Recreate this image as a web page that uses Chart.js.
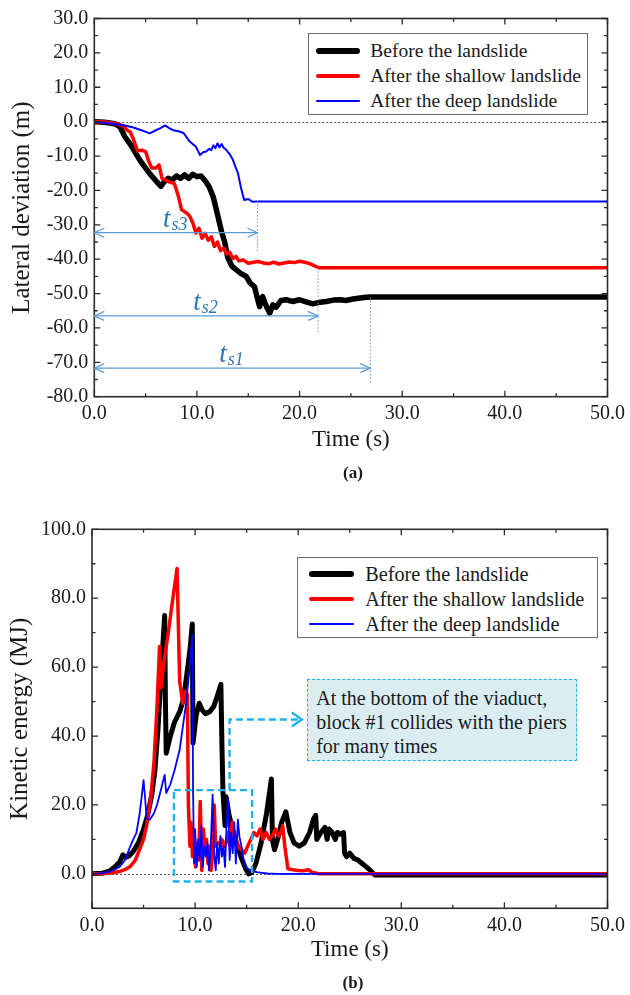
<!DOCTYPE html>
<html lang="en">
<head>
<meta charset="utf-8">
<title>Lateral deviation and kinetic energy</title>
<script src="https://cdn.jsdelivr.net/npm/chart.js@4.4.1/dist/chart.umd.min.js"></script>
<style>
    body { margin: 0; background: #fff; font-family: 'Liberation Serif', 'Times New Roman', serif; color: #1a1a1a; }
    #pagina { position: relative; width: 630px; height: 995px; overflow: hidden; }
    .painel { position: absolute; left: 0; width: 630px; }
    #painelA { top: 0; height: 490px; }
    #painelB { top: 490px; height: 505px; }
    .legenda { position: absolute; background: #fff; border: 1px solid #6b6b6b; box-sizing: border-box; }
    .legenda .amostra { position: absolute; border-radius: 3px; }
    .legenda .rotulo { position: absolute; white-space: nowrap; line-height: 24px; height: 24px; }
    .subtitulo { position: absolute; left: 333px; width: 40px; text-align: center; font-weight: bold; font-size: 17px; line-height: 20px; }
    #nota { position: absolute; left: 306.7px; top: 679.3px; width: 270px; height: 81.4px; box-sizing: border-box;
            background: #daedf3; border: 1.5px dashed #1fb2ec; padding: 5.5px 0 0 8.5px;
            font-size: 20px; line-height: 24px; white-space: nowrap; }
</style>
</head>
<body>
<div id="pagina">
    <div class="painel" id="painelA"><canvas id="chartDesvio"></canvas></div>
    <div class="painel" id="painelB"><canvas id="chartEnergia"></canvas></div>
    <div class="legenda" id="legendaA" style="left:307.7px; top:33.3px; width:280.6px; height:81.7px;"></div>
    <div class="legenda" id="legendaB" style="left:296.7px; top:557.3px; width:301.3px; height:80.4px;"></div>
    <div id="nota">At the bottom of the viaduct,<br>block #1 collides with the piers<br>for many times</div>
    <div class="subtitulo" style="top:463px;">(a)</div>
    <div class="subtitulo" style="top:973px;">(b)</div>
</div>
<script>
// Nomes das séries
const nomesSeries = ['Before the landslide', 'After the shallow landslide', 'After the deep landslide'];

// Marcas dos eixos
const ticksTempo = [0, 10, 20, 30, 40, 50];
const ticksDesvio = [-80, -70, -60, -50, -40, -30, -20, -10, 0, 10, 20, 30];
const ticksEnergia = [0, 20, 40, 60, 80, 100];

// Painel (a): desvio lateral (m)
const tempoDesvioAntes = [0,1,2,2.5,3.0,3.5,4.0,4.5,5.0,5.5,6.0,6.5,6.8,7.2,7.6,8.0,8.4,8.8,9.2,9.6,10.0,10.4,10.8,11.2,11.6,12.0,12.4,12.7,13.0,13.4,13.8,14.3,14.8,15.2,15.6,16.1,16.4,16.8,17.1,17.4,17.7,18.2,18.7,19.3,20.0,20.7,21.3,22.0,22.6,23.3,24.0,24.5,25.2,25.9,26.5,27.0,50];
const desvioAntes = [0,-0.2,-0.6,-1.5,-4.5,-6.5,-9,-11.5,-13.5,-15.5,-17.2,-18.8,-17.5,-16.5,-17,-15.8,-16.5,-15.5,-16.5,-15.3,-16,-15.8,-17.2,-19,-22,-27,-32,-35,-39.5,-42,-43,-44.2,-45,-47,-48,-53.8,-50.9,-54,-55.7,-53.3,-54,-52,-51.8,-52.3,-51.8,-52.5,-53,-52.5,-52.3,-51.9,-51.8,-52,-51.6,-51.3,-51.1,-51,-51];

const tempoDesvioRaso = [0,1,2,2.8,3.2,3.5,3.8,4.2,4.6,5.0,5.3,5.6,6.0,6.3,6.6,6.9,7.3,7.8,8.2,8.5,9.0,9.3,9.6,9.9,10.2,10.5,10.8,11.1,11.4,11.7,12.0,12.3,12.6,12.9,13.2,13.5,13.8,14.1,14.5,15.0,15.5,16.0,16.5,17.0,17.5,18.0,18.5,19.0,19.5,20.0,20.5,21.0,21.5,21.9,50];
const desvioRaso = [0,-0.1,-0.5,-1.2,-2.5,-3,-5,-8.5,-8.3,-8.7,-11.5,-13.5,-13.5,-12.6,-16.5,-16.9,-17.5,-18,-21.8,-25.6,-26.6,-27.5,-29.5,-32.4,-31,-33.9,-32.5,-34.5,-33.5,-36.3,-35,-37.5,-36.8,-38.5,-38,-39.8,-39.2,-40.5,-40.2,-41.2,-40.9,-40.7,-41.1,-41.3,-40.9,-41.4,-41.1,-40.8,-41,-40.6,-40.9,-41.3,-42,-42.5,-42.5];

const tempoDesvioProfundo = [0,1,2,3,3.8,4.6,5.4,6.0,6.5,6.9,7.3,7.7,8.2,8.7,9.3,9.9,10.3,10.6,10.9,11.2,11.4,11.6,11.8,12.0,12.2,12.4,12.6,12.85,13.2,13.5,13.8,14.0,14.3,14.6,15.0,15.4,15.9,50];
const desvioProfundo = [0,-0.3,-0.7,-1.1,-1.7,-2.5,-3.4,-2.5,-1.8,-1.1,-1.9,-2.5,-2.8,-3.3,-5.8,-7.3,-9.7,-8.9,-8.7,-7.9,-8.3,-6.9,-7.7,-6.3,-7.5,-6.5,-7.6,-8.2,-9.5,-11.1,-13.5,-15,-19.4,-22.8,-22.5,-23.3,-23.2,-23.2];

// Tempos de estabilização t_s (fim da seta, altura da seta, trecho pontilhado)
const marcasTs = [
    { indice: 's3', tempo: 15.9, nivel: -32.3, topo: -23, fundo: -38 },
    { indice: 's2', tempo: 21.8, nivel: -56.5, topo: -42.5, fundo: -61.5 },
    { indice: 's1', tempo: 26.9, nivel: -71.7, topo: -51, fundo: -76 }
];

// Painel (b): energia cinética (MJ)
const tempoEnergiaAntes = [0,1,1.7,2.2,2.7,3.0,3.3,3.6,4.0,4.5,5.0,5.4,5.8,6.1,6.4,6.7,7.05,7.12,7.2,7.6,8.0,8.5,8.9,9.2,9.5,9.73,9.8,10.1,10.4,10.7,11.0,11.4,11.8,12.2,12.5,12.6,12.7,12.9,13.0,13.3,13.7,14.1,14.5,14.9,15.2,15.5,15.9,16.4,16.9,17.4,17.5,17.7,18.0,18.4,18.8,19.2,19.6,20.1,20.6,21.1,21.5,21.7,21.8,22.2,22.6,22.8,23.0,23.3,23.6,23.8,24.1,24.4,24.5,24.7,25.0,25.4,25.8,26.2,26.6,27.0,27.4,50];
const energiaAntes = [0,0.2,0.8,2,3.5,5.5,4.8,5.2,6.5,9,13,17,23,30,42,58,75,50,35,40,44,47,51,58,65,72.5,38,46,49.5,47.5,46.5,47,48.5,52,55,38,24,14,22.4,17,12,8,4.5,1.5,0,0.4,3,9,17,27.5,10,7,10,15,18,12,9,8,9,12,16,17,10,12,13.5,10,13,12,10,12,11.5,12,6,5,6,4.5,4,3,2,1,-0.3,-0.3];

const tempoEnergiaRaso = [0,1,2,2.7,3.2,3.7,4.2,4.6,5.0,5.3,5.7,6.0,6.3,6.55,6.7,7.0,7.4,7.8,8.25,8.5,8.8,9.1,9.25,9.35,9.5,9.6,9.75,9.9,10.05,10.2,10.35,10.5,10.65,10.8,10.95,11.1,11.25,11.4,11.55,11.7,11.85,12.0,12.2,12.4,12.6,12.8,13.0,13.2,13.4,13.6,13.8,14.0,14.2,14.5,14.8,15.1,15.4,15.7,16.0,16.3,16.6,16.9,17.2,17.5,17.8,18.1,18.3,18.5,18.7,19.0,19.5,20.0,20.5,21.0,21.3,21.6,22.0,50];
const energiaRaso = [0,0,0.3,0.7,1.2,2.1,4,7,10,14,22,32,48,66,54,62,70,79,88.6,56,49.5,53,52,20,8,15,5,12,2,9,4,21,1,13,7,10,3,8,1,6,20,8,9,9,10,8,9,12,8,15,9,10,8,7,6,8,10,12,11,13,10,12,10,11,13,11,12,14,8,1.5,1.2,1,0.9,1.2,0.5,0.3,0,0];

const tempoEnergiaProfundo = [0,1,1.7,2.2,2.7,3.2,3.7,4.0,4.3,4.6,4.8,5.0,5.15,5.3,5.6,6.0,6.3,6.6,6.9,7.05,7.2,7.6,8.0,8.5,9.15,9.6,9.73,9.8,9.9,10.0,10.15,10.3,10.45,10.6,10.75,10.9,11.05,11.2,11.35,11.5,11.7,11.85,12.0,12.15,12.3,12.45,12.6,12.75,12.9,13.05,13.2,13.35,13.5,13.65,13.8,13.95,14.15,14.3,14.5,14.7,14.9,15.1,15.3,15.6,16.0,16.5,17,18,50];
const energiaProfundo = [0,0.2,0.6,1.2,2.1,4,7.9,10,11.8,17,22,27.2,22,16,15.7,17.5,20,23.4,27,28.7,23.4,26,30,36,50,64,69.3,25,3,13,2,10,4,14,2,8,5,9,1,7,23,6,1,9,3,11,5,8,2,14,22,4,12,6,15,3,15.7,10.8,8,4,2,1.5,1.2,0.8,0.5,0.3,0.1,0,0];

// Caixa tracejada das colisões e seta até a nota (coordenadas do gráfico b)
const caixaColisao = { t0: 7.95, t1: 15.53, e0: -2.2, e1: 24.3 };
const setaNota = { tempo: 13.34, nivel: 44.8, tempoFim: 20.35 };

const fonteSerif = "'Liberation Serif', 'Times New Roman', serif";
const coresSeries = ['#000000', '#ff0000', '#0000ff'];

function pontos(tempos, valores) {
    return tempos.map((t, i) => ({ x: t, y: valores[i] }));
}

function pontaSeta(ctx, x, y, direcao, comprimento, meiaAltura) {
    ctx.beginPath();
    ctx.moveTo(x - direcao * comprimento, y - meiaAltura);
    ctx.lineTo(x, y);
    ctx.lineTo(x - direcao * comprimento, y + meiaAltura);
    ctx.stroke();
}

// Moldura, linha do zero e marcas internas dos eixos
const molduraEixos = {
    id: 'molduraEixos',
    beforeDatasetsDraw(chart) {
        const { ctx, chartArea: a, scales: { y } } = chart;
        const y0 = Math.round(y.getPixelForValue(0)) + 0.5;
        ctx.save();
        ctx.strokeStyle = '#555';
        ctx.lineWidth = 1;
        ctx.setLineDash([2, 2]);
        ctx.beginPath();
        ctx.moveTo(a.left, y0);
        ctx.lineTo(a.right, y0);
        ctx.stroke();
        ctx.restore();
    },
    afterDatasetsDraw(chart, args, opts) {
        const { ctx, chartArea: a, scales: { x, y } } = chart;
        ctx.save();
        ctx.strokeStyle = '#2b2b2b';
        ctx.lineWidth = 1.6;
        ctx.strokeRect(a.left, a.top, a.right - a.left, a.bottom - a.top);
        ctx.lineWidth = 1.3;
        ctx.beginPath();
        for (let v = x.min; v <= x.max + 1e-6; v += opts.passoX) {
            const px = x.getPixelForValue(v);
            const tam = Math.abs(v % (opts.passoX * 2)) < 1e-6 ? 6 : 3.5;
            ctx.moveTo(px, a.bottom); ctx.lineTo(px, a.bottom - tam);
            ctx.moveTo(px, a.top); ctx.lineTo(px, a.top + tam);
        }
        for (let v = y.min; v <= y.max + 1e-6; v += opts.passoY) {
            const py = y.getPixelForValue(v);
            const tam = Math.abs(v % (opts.passoY * 2)) < 1e-6 ? 6 : 3.5;
            ctx.moveTo(a.left, py); ctx.lineTo(a.left + tam, py);
            ctx.moveTo(a.right, py); ctx.lineTo(a.right - tam, py);
        }
        ctx.stroke();
        ctx.restore();
    }
};

// Setas t_s do painel (a)
const setasTs = {
    id: 'setasTs',
    afterDatasetsDraw(chart) {
        const { ctx, scales: { x, y } } = chart;
        ctx.save();
        marcasTs.forEach(m => {
            const xi = x.getPixelForValue(0);
            const xf = x.getPixelForValue(m.tempo);
            const yl = y.getPixelForValue(m.nivel);
            ctx.strokeStyle = '#5b9bd5';
            ctx.lineWidth = 1.2;
            ctx.setLineDash([]);
            ctx.beginPath();
            ctx.moveTo(xi, yl);
            ctx.lineTo(xf, yl);
            ctx.stroke();
            pontaSeta(ctx, xi, yl, -1, 10, 4.5);
            pontaSeta(ctx, xf, yl, 1, 10, 4.5);
            ctx.setLineDash([1.5, 2]);
            ctx.lineWidth = 1;
            ctx.beginPath();
            ctx.moveTo(xf, y.getPixelForValue(m.topo));
            ctx.lineTo(xf, y.getPixelForValue(m.fundo));
            ctx.stroke();

            // rótulo t_s
            const meio = (xi + xf) / 2 - 13;
            ctx.fillStyle = '#2e75b6';
            ctx.textBaseline = 'alphabetic';
            ctx.textAlign = 'left';
            ctx.font = 'italic 27px ' + fonteSerif;
            ctx.fillText('t', meio, yl - 6);
            const largT = ctx.measureText('t').width;
            ctx.font = 'italic 18px ' + fonteSerif;
            ctx.fillText(m.indice, meio + largT + 1, yl - 3);
        });
        ctx.restore();
    }
};

// Caixa das colisões e seta do painel (b)
const destaqueColisoes = {
    id: 'destaqueColisoes',
    afterDatasetsDraw(chart) {
        const { ctx, scales: { x, y } } = chart;
        ctx.save();
        ctx.strokeStyle = '#1fb2ec';
        ctx.lineWidth = 2.4;
        ctx.setLineDash([7, 4]);
        const x0 = x.getPixelForValue(caixaColisao.t0), x1 = x.getPixelForValue(caixaColisao.t1);
        const y0 = y.getPixelForValue(caixaColisao.e1), y1 = y.getPixelForValue(caixaColisao.e0);
        ctx.strokeRect(x0, y0, x1 - x0, y1 - y0);
        const xs = x.getPixelForValue(setaNota.tempo);
        const ys = y.getPixelForValue(setaNota.nivel);
        const xe = x.getPixelForValue(setaNota.tempoFim);
        ctx.beginPath();
        ctx.moveTo(xs, y0);
        ctx.lineTo(xs, ys);
        ctx.lineTo(xe - 2, ys);
        ctx.stroke();
        ctx.setLineDash([]);
        pontaSeta(ctx, xe, ys, 1, 10, 7);
        ctx.restore();
    }
};

// Eixos comuns
function eixoX(altura, tituloPadding) {
    return {
        type: 'linear', min: 0, max: 50,
        afterBuildTicks: s => { s.ticks = ticksTempo.map(v => ({ value: v })); },
        afterFit: s => { s.height = altura; },
        ticks: { padding: 5, color: '#1a1a1a', font: { family: fonteSerif, size: 20 }, maxRotation: 0, autoSkip: false,
                 callback: v => v.toFixed(1) },
        grid: { display: false, drawTicks: false },
        border: { display: false },
        title: { display: true, text: 'Time (s)', color: '#1a1a1a', font: { family: fonteSerif, size: 23 },
                 padding: { top: 0, bottom: tituloPadding } }
    };
}

function eixoY(min, max, marcas, largura, titulo, tituloPadding) {
    return {
        type: 'linear', min: min, max: max,
        afterBuildTicks: s => { s.ticks = marcas.map(v => ({ value: v })); },
        afterFit: s => { s.width = largura; },
        ticks: { padding: 6, color: '#1a1a1a', font: { family: fonteSerif, size: 20 }, autoSkip: false,
                 callback: v => v.toFixed(1) },
        grid: { display: false, drawTicks: false },
        border: { display: false },
        title: { display: true, text: titulo, color: '#1a1a1a', font: { family: fonteSerif, size: 25 },
                 padding: { top: tituloPadding, bottom: 0 } }
    };
}

function criarDatasets(series, espessuras) {
    return series.map((s, i) => ({
        label: nomesSeries[i],
        data: pontos(s[0], s[1]),
        borderColor: coresSeries[i],
        backgroundColor: coresSeries[i],
        borderWidth: espessuras[i],
        pointRadius: 0,
        tension: 0,
        fill: false,
        borderJoinStyle: 'round',
        borderCapStyle: 'round',
        order: 3 - i
    }));
}

// Gráfico (a): desvio lateral
function criarGraficoDesvio() {
    const ctx = document.getElementById('chartDesvio');
    new Chart(ctx, {
        type: 'line',
        data: {
            datasets: criarDatasets([
                [tempoDesvioAntes, desvioAntes],
                [tempoDesvioRaso, desvioRaso],
                [tempoDesvioProfundo, desvioProfundo]
            ], [5.5, 3.5, 2])
        },
        options: {
            responsive: true,
            maintainAspectRatio: false,
            animation: false,
            layout: { padding: { left: 0, top: 18.5, right: 20.7, bottom: 0 } },
            plugins: {
                legend: { display: false },
                tooltip: { enabled: false },
                molduraEixos: { passoX: 5, passoY: 5 }
            },
            scales: {
                x: eixoX(93.3, 36.2),
                y: eixoY(-80, 30, ticksDesvio, 94.3, 'Lateral deviation (m)', 7.5)
            }
        },
        plugins: [molduraEixos, setasTs]
    });
}

// Gráfico (b): energia cinética
function criarGraficoEnergia() {
    const ctx = document.getElementById('chartEnergia');
    new Chart(ctx, {
        type: 'line',
        data: {
            datasets: criarDatasets([
                [tempoEnergiaAntes, energiaAntes],
                [tempoEnergiaRaso, energiaRaso],
                [tempoEnergiaProfundo, energiaProfundo]
            ], [5, 3.5, 1.8])
        },
        options: {
            responsive: true,
            maintainAspectRatio: false,
            animation: false,
            layout: { padding: { left: 0, top: 39.3, right: 20.7, bottom: 0 } },
            plugins: {
                legend: { display: false },
                tooltip: { enabled: false },
                molduraEixos: { passoX: 5, passoY: 10 }
            },
            scales: {
                x: eixoX(86.7, 31.2),
                y: eixoY(-10, 100, ticksEnergia, 92, 'Kinetic energy (MJ)', 5)
            }
        },
        plugins: [molduraEixos, destaqueColisoes]
    });
}

// Legendas desenhadas em HTML dentro da área do gráfico
function montarLegenda(idDiv, cfg) {
    const div = document.getElementById(idDiv);
    nomesSeries.forEach((nome, i) => {
        const amostra = document.createElement('div');
        amostra.className = 'amostra';
        amostra.style.left = cfg.amostraX + 'px';
        amostra.style.width = cfg.amostraLargura + 'px';
        amostra.style.height = cfg.espessuras[i] + 'px';
        amostra.style.top = (cfg.linhas[i] - cfg.espessuras[i] / 2) + 'px';
        amostra.style.background = coresSeries[i];
        div.appendChild(amostra);

        const rotulo = document.createElement('div');
        rotulo.className = 'rotulo';
        rotulo.textContent = nome;
        rotulo.style.left = cfg.textoX + 'px';
        rotulo.style.top = (cfg.linhas[i] - 12) + 'px';
        rotulo.style.fontSize = cfg.fonte + 'px';
        div.appendChild(rotulo);
    });
}

document.addEventListener('DOMContentLoaded', function() {
    criarGraficoDesvio();
    criarGraficoEnergia();
    montarLegenda('legendaA', { amostraX: 7.3, amostraLargura: 44, textoX: 61.6, linhas: [16.7, 41.7, 66.7], espessuras: [6, 4, 2], fonte: 19.5 });
    montarLegenda('legendaB', { amostraX: 11.6, amostraLargura: 45, textoX: 67.5, linhas: [16, 41, 65.4], espessuras: [6, 4, 2], fonte: 20.3 });
});
</script>
</body>
</html>
